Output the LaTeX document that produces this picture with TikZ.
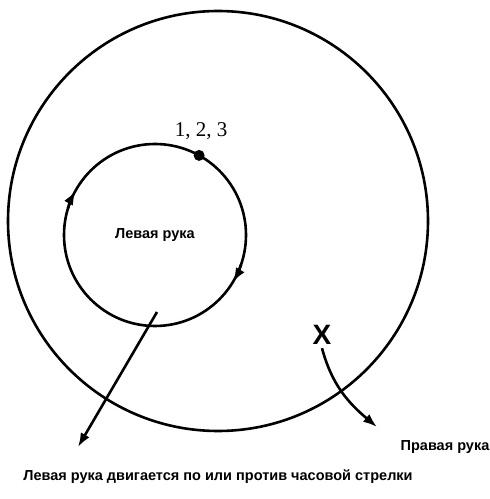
\documentclass[tikz,border=0pt]{standalone}
\usepackage{fontspec}
\setmainfont{Liberation Serif}
\newfontfamily\handfont{Liberation Sans}
\usetikzlibrary{positioning, arrows.meta}

\tikzset{
  ring/.style={circle, draw, line width=2.6pt, inner sep=0pt, outer sep=0pt},
  handtext/.style={font=\handfont\bfseries\fontsize{14.5}{16}\selectfont},
  move/.style={-{Latex[length=14pt,width=10pt]}, line width=2.6pt}
}

\begin{document}
\begin{tikzpicture}[x=1pt, y=1pt]
\useasboundingbox (0,0) rectangle (490,499);

% Right hand circle
\node[ring, minimum size=420pt] (outer) at (218,278) {};

% Left hand circle
\node[ring, minimum size=182pt, handtext] (inner) at (155,264) {Левая рука};
\node[circle, fill, inner sep=0pt, minimum size=11pt] (dot) at (inner.61) {};
\node[font=\fontsize{21}{23}\selectfont, above=6pt of dot, xshift=2pt] (nums) {1, 2, 3};

% Direction marks
\draw[move] (inner.163) arc[start angle=163, end angle=151, radius=91pt];
\draw[move] (inner.-19) arc[start angle=-19, end angle=-31, radius=91pt];

% Left hand leaves
\coordinate (lstart) at (157,187);
\coordinate (ltip) at (78,52);
\draw[move] (lstart) -- (ltip);

% Right hand
\node[font=\handfont\bfseries\fontsize{28}{28}\selectfont] (xmark) at (322,164) {X};
\coordinate (rtip) at (377,72);
\draw[move] (xmark.south) to[out=-75, in=140] (rtip);
\node[handtext] (rightlbl) at (445,52) {Правая рука};

\node[handtext] (caption) at (218,22) {Левая рука двигается по или против часовой стрелки};

\end{tikzpicture}
\end{document}
